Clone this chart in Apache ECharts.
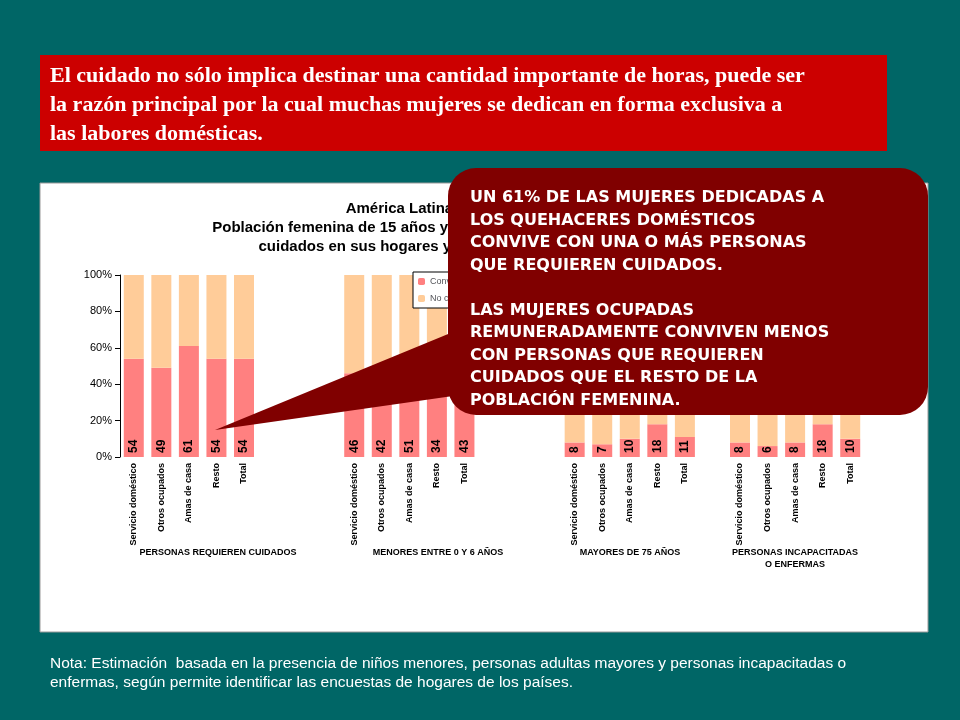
<!DOCTYPE html>
<html>
<head>
<meta charset="utf-8">
<title>Cuidados</title>
<script src="https://cdn.jsdelivr.net/npm/echarts@6/dist/echarts.min.js"></script>
<style>body{margin:0;background:#006666}</style>
</head>
<body>
<div id="main" style="width:960px;height:720px;"></div>
<script type="text/javascript">
// categorias (espacios vacíos entre grupos)
var categories = ['Servicio doméstico','Otros ocupados','Amas de casa','Resto','Total','','','',
  'Servicio doméstico','Otros ocupados','Amas de casa','Resto','Total','','','',
  'Servicio doméstico','Otros ocupados','Amas de casa','Resto','Total','',
  'Servicio doméstico','Otros ocupados','Amas de casa','Resto','Total'];
var conviven = [54,49,61,54,54,null,null,null, 46,42,51,34,43,null,null,null, 8,7,10,18,11,null, 8,6,8,18,10];
var noConviven = conviven.map(function(v){ return v === null ? null : 100 - v; });
var groupNames = ['PERSONAS REQUIEREN CUIDADOS','MENORES ENTRE 0 Y 6 AÑOS','MAYORES DE 75 AÑOS','PERSONAS INCAPACITADAS\nO ENFERMAS'];
var groupX = [218, 438, 630, 795];

var myChart = echarts.init(document.getElementById('main'));
var f = 'Liberation Sans, Arial, sans-serif';
var gfx = [
  {type:'rect', shape:{x:40,y:55,width:847,height:96}, style:{fill:'#cc0000'}, z:-5},
  {type:'text', left:50, top:62, style:{text:'El cuidado no sólo implica destinar una cantidad importante de horas, puede ser\nla razón principal por la cual muchas mujeres se dedican en forma exclusiva a\nlas labores domésticas.', fill:'#fff', font:'bold 22px "Liberation Serif", serif', lineHeight:29}, z:-5},
  {type:'rect', shape:{x:40,y:183,width:888,height:449}, style:{fill:'#fff', stroke:'#999', lineWidth:1}, z:-5},
  {type:'text', x:484, y:199, style:{text:'América Latina (promedio ponderado):\nPoblación femenina de 15 años y más, que vive con personas que requieren\ncuidados en sus hogares y tipo de actividad, alrededor de 2005', fill:'#000', font:'bold 15px '+f, align:'center', lineHeight:19}, z:-4},
  {type:'text', left:50, top:654, style:{text:'Nota: Estimación  basada en la presencia de niños menores, personas adultas mayores y personas incapacitadas o\nenfermas, según permite identificar las encuestas de hogares de los países.', fill:'#fff', font:'15.5px '+f, lineHeight:19}},
  {type:'polygon', shape:{points:[[470,325],[530,385],[215,430]]}, style:{fill:'#800000'}, z:100},
  {type:'rect', shape:{x:448,y:168,width:480,height:247,r:28}, style:{fill:'#800000'}, z:100},
  {type:'text', left:470, top:187, style:{text:'UN 61% DE LAS MUJERES DEDICADAS A\nLOS QUEHACERES DOMÉSTICOS\nCONVIVE CON UNA O MÁS PERSONAS\nQUE REQUIEREN CUIDADOS.\n\nLAS MUJERES OCUPADAS\nREMUNERADAMENTE CONVIVEN MENOS\nCON PERSONAS QUE REQUIEREN\nCUIDADOS QUE EL RESTO DE LA\nPOBLACIÓN FEMENINA.', fill:'#fff', font:'bold 16px "DejaVu Sans", sans-serif', lineHeight:22.5}, z:101}
];
groupNames.forEach(function(n,i){
  gfx.push({type:'text', x:groupX[i], y:547, style:{text:n, fill:'#000', font:'bold 9px '+f, align:'center', lineHeight:12}});
});
var option = {
  animation:false,
  grid:{left:120, right:96, top:275, bottom:263},
  legend:{show:true, left:413, top:272, orient:'vertical', backgroundColor:'#fff', borderColor:'#000', borderWidth:1, itemWidth:7, itemHeight:7, textStyle:{fontSize:9}, data:['Conviven con personas que requieren cuidados','No conviven']},
  xAxis:{type:'category', data:categories, axisTick:{show:false}, axisLine:{show:false},
    axisLabel:{rotate:90, interval:0, fontSize:9, fontWeight:'bold', color:'#000', fontFamily:f, margin:6}},
  yAxis:{type:'value', min:0, max:100, interval:20, splitLine:{show:false},
    axisLine:{show:true, lineStyle:{color:'#000'}}, axisTick:{show:true, lineStyle:{color:'#000'}},
    axisLabel:{formatter:'{value}%', fontSize:11, color:'#000', fontFamily:f}},
  series:[
    {name:'Conviven con personas que requieren cuidados', type:'bar', stack:'a', data:conviven, barWidth:20, itemStyle:{color:'#ff8080'},
      label:{show:true, position:'insideBottom', rotate:90, align:'left', verticalAlign:'middle', distance:4, fontSize:12, fontWeight:'bold', color:'#000', fontFamily:f}},
    {name:'No conviven', type:'bar', stack:'a', data:noConviven, barWidth:20, itemStyle:{color:'#ffcc99'}}
  ],
  graphic:gfx
};
myChart.setOption(option);
</script>
</body>
</html>
